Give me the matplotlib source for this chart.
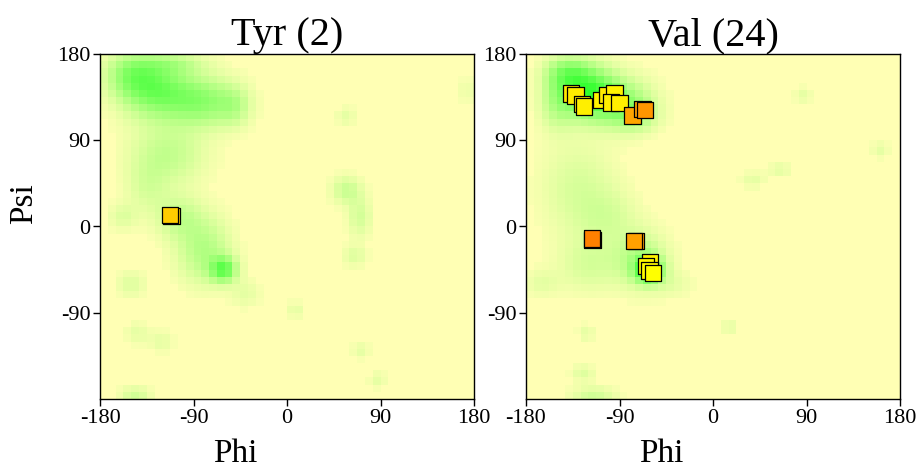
import numpy as np
import matplotlib
matplotlib.use("Agg")
import matplotlib.pyplot as plt
from matplotlib.colors import LinearSegmentedColormap

plt.rcParams['font.family'] = ['Liberation Serif', 'DejaVu Serif']

titles = ["Tyr (2)", "Val (24)"]
xticks = [-180, -90, 0, 90, 180]
xtick_labels = ["-180", "-90", "0", "90", "180"]
yticks = [-90, 0, 90, 180]
ytick_labels = ["-90", "0", "90", "180"]

# background density blobs: (phi, psi, sigma_phi, sigma_psi, amplitude)
tyr_blobs = [
    (-127, 142, 24, 20, 0.60), (-150, 160, 18, 15, 0.38), (-80, 130, 24, 18, 0.48),
    (-50, 125, 10, 14, 0.20), (-110, 170, 22, 8, 0.22), (-115, 75, 25, 22, 0.28),
    (-135, 40, 14, 18, 0.15), (-61, -45, 9, 9, 0.65), (-80, -25, 18, 24, 0.35),
    (-105, 10, 16, 16, 0.25), (-150, -60, 10, 10, 0.15), (57, 38, 10, 10, 0.25),
    (70, 10, 8, 15, 0.20), (65, -31, 8, 8, 0.15), (57, 115, 7, 7, 0.12),
    (8, -87, 6, 6, 0.12), (71, -129, 6, 6, 0.12), (87, -160, 6, 6, 0.12),
    (-144, -111, 8, 8, 0.12), (-121, -120, 8, 8, 0.12), (-146, -178, 10, 8, 0.22),
    (173, 142, 5, 10, 0.10), (-158, 10, 10, 10, 0.15), (-40, -70, 10, 10, 0.12),
]
val_blobs = [
    (-120, 140, 18, 18, 0.75), (-140, 160, 15, 12, 0.45), (-90, 130, 22, 18, 0.45),
    (-75, 115, 15, 12, 0.25), (-150, 130, 12, 20, 0.30), (-130, 40, 25, 35, 0.18),
    (-100, 10, 20, 20, 0.15), (-62, -45, 9, 9, 0.80), (-70, -35, 18, 20, 0.35),
    (-120, -40, 20, 20, 0.18), (-165, -59, 12, 10, 0.12),
    (86.6, 137, 6, 6, 0.12), (161, 80, 6, 6, 0.12), (38.5, 48.5, 8, 6, 0.12),
    (64.5, 59, 8, 6, 0.12), (16, -105, 6, 6, 0.12), (-122, -111, 6, 6, 0.12),
    (-125, -153, 8, 6, 0.15), (-115, -178, 15, 8, 0.22), (-40, -60, 15, 10, 0.10),
]

# residue points (phi, psi, score)
tyr_phi = [-111, -112.6]
tyr_psi = [11, 12]
tyr_score = [0.38, 0.38]

val_phi = [-136.7, -132.5, -126, -123.9, -107.8, -102.3, -95, -98.2, -90.2, -77.3, -67.7, -65.2,
           -116, -116.2, -74, -76, -60.6, -64.5, -61.3, -57.5]
val_psi = [139, 136.5, 128, 125.4, 132, 137.2, 139, 129.6, 128.6, 115.6, 122.6, 121.6,
           -14, -12.3, -15, -15, -37.4, -41.4, -46, -48.8]
val_score = [0.18, 0.15, 0.15, 0.12, 0.1, 0.15, 0.1, 0.12, 0.12, 0.67, 0.7, 0.78,
             0.94, 0.94, 0.7, 0.7, 0.1, 0.05, 0.03, 0.0]

bg_cmap = LinearSegmentedColormap.from_list("bg", [(255/255, 255/255, 180/255), (40/255, 255/255, 40/255)])
pt_cmap = LinearSegmentedColormap.from_list("pt", [(1, 1, 0), (1, 120/255, 0)])

edges = np.arange(-180, 180.1, 7.5)
centers = (edges[:-1] + edges[1:]) / 2
PH, PS = np.meshgrid(centers, centers)


def density(blobs):
    d = np.zeros_like(PH)
    for (p, s, sp, ss, a) in blobs:
        d += a * np.exp(-0.5 * (((PH - p) / sp) ** 2 + ((PS - s) / ss) ** 2))
    d = np.clip(d, 0, 1)
    d[d < 0.03] = 0
    return d


fig = plt.figure(figsize=(9.18, 4.73), dpi=100)
W, H = 918, 473
axes = [fig.add_axes([100 / W, 1 - 399 / H, 374 / W, 345 / H]),
        fig.add_axes([526 / W, 1 - 399 / H, 374 / W, 345 / H])]

data = [(tyr_blobs, tyr_phi, tyr_psi, tyr_score), (val_blobs, val_phi, val_psi, val_score)]
for i, (ax, (blobs, phi, psi, score)) in enumerate(zip(axes, data)):
    ax.pcolormesh(edges, edges, density(blobs), cmap=bg_cmap, vmin=0, vmax=1, shading='flat')
    ax.scatter(phi, psi, c=score, cmap=pt_cmap, vmin=0, vmax=1, marker='s', s=140,
               edgecolors='black', linewidths=0.9, zorder=3)
    ax.set_xlim(-180, 180)
    ax.set_ylim(-180, 180)
    ax.set_xticks(xticks)
    ax.set_xticklabels(xtick_labels)
    ax.set_yticks(yticks)
    ax.set_yticklabels(ytick_labels)
    ax.tick_params(direction='out', length=5, width=1, labelsize=16, pad=2)
    for sp in ax.spines.values():
        sp.set_linewidth(1)
    ax.set_title(titles[i], fontsize=29, pad=3)
    ax.set_xlabel("Phi", fontsize=24)
    ax.xaxis.set_label_coords(0.361, -0.115)
    if i == 0:
        ax.set_ylabel("Psi", fontsize=24)
        ax.yaxis.set_label_coords(-0.162, 0.565)

fig.savefig("out.png", dpi=100)
